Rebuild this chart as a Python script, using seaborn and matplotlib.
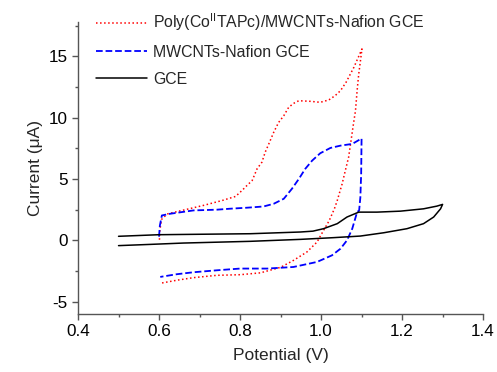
import numpy as np
import pandas as pd
import matplotlib
matplotlib.use("Agg")
import matplotlib.pyplot as plt
from matplotlib.ticker import MultipleLocator
import seaborn as sns

# Poly(Co(II)TAPc)/MWCNTs-Nafion GCE (red dotted)
poly_v = [0.601, 0.602, 0.606, 0.62, 0.657, 0.710, 0.756, 0.789, 0.805, 0.817, 0.83, 0.842, 0.854,
          0.862, 0.871, 0.883, 0.895, 0.908, 0.92, 0.932, 0.945, 0.974, 0.998, 1.019, 1.035, 1.048,
          1.062, 1.081, 1.101,
          1.093, 1.089, 1.085, 1.08, 1.074, 1.068, 1.06, 1.052, 1.04, 1.033, 1.020, 1.006, 0.99,
          0.965, 0.932, 0.90, 0.85, 0.80, 0.743, 0.685, 0.644, 0.603]
poly_i = [0.05, 0.8, 1.7, 2.15, 2.44, 2.85, 3.25, 3.58, 4.07, 4.47, 4.88, 5.83, 6.37,
          7.18, 7.86, 8.8, 9.6, 10.16, 10.84, 11.16, 11.38, 11.33, 11.25, 11.44, 11.8, 12.2,
          12.9, 14.1, 15.6,
          13.55, 12.2, 10.57, 9.5, 8.13, 6.77, 5.7, 4.6, 3.25, 2.58, 1.6, 0.8, -0.14,
          -0.95, -1.63, -2.2, -2.65, -2.8, -2.85, -3.04, -3.25, -3.5]

# MWCNTs-Nafion GCE (blue dashed)
mw_v = [0.600, 0.602, 0.607, 0.628, 0.685, 0.743, 0.776, 0.817, 0.858, 0.883, 0.908, 0.928, 0.945,
        0.961, 0.978, 0.998, 1.023, 1.048, 1.077, 1.10,
        1.099, 1.097, 1.094, 1.089, 1.077, 1.064, 1.048, 1.027, 0.99, 0.932, 0.867, 0.80, 0.743,
        0.685, 0.644, 0.603]
mw_i = [0.3, 1.2, 2.03, 2.17, 2.44, 2.5, 2.58, 2.66, 2.76, 2.98, 3.39, 4.2, 5.0,
        5.83, 6.5, 7.1, 7.53, 7.72, 7.86, 8.3,
        5.4, 3.5, 2.44, 2.3, 0.95, 0.0, -0.68, -1.22, -1.76, -2.17, -2.3, -2.3, -2.44,
        -2.6, -2.76, -2.98]

# GCE (black solid)
gce_v = [0.50, 0.60, 0.825, 0.949, 0.980, 1.006, 1.04, 1.064, 1.093, 1.138, 1.196, 1.253, 1.286, 1.30,
         1.295, 1.278, 1.253, 1.212, 1.155, 1.097, 1.031, 0.949, 0.825, 0.66, 0.578, 0.50]
gce_i = [0.33, 0.46, 0.54, 0.68, 0.75, 0.95, 1.36, 1.9, 2.3, 2.3, 2.38, 2.57, 2.79, 2.93,
         2.57, 1.9, 1.36, 0.95, 0.62, 0.35, 0.22, 0.08, -0.08, -0.22, -0.33, -0.43]

labels = [r"Poly(Co$^{\mathrm{II}}$TAPc)/MWCNTs-Nafion GCE", "MWCNTs-Nafion GCE", "GCE"]

sns.set_theme(style="white")
plt.rcParams["font.family"] = ["Liberation Sans", "DejaVu Sans"]
plt.rcParams["mathtext.fontset"] = "custom"
plt.rcParams["mathtext.rm"] = "Liberation Sans"

fig = plt.figure(figsize=(4.97, 3.72), dpi=100)
ax = fig.add_axes([0.157, 0.156, 0.815, 0.785])

frames = []
for v, i, lab in [(poly_v, poly_i, labels[0]), (mw_v, mw_i, labels[1]), (gce_v, gce_i, labels[2])]:
    frames.append(pd.DataFrame({"V": v, "I": i, "series": lab, "order": np.arange(len(v))}))
df = pd.concat(frames, ignore_index=True)

styles = {labels[0]: ("#ff0000", ":", 1.1), labels[1]: ("#0000ff", "--", 1.3), labels[2]: ("black", "-", 1.1)}
for lab in labels:
    c, ls, lw = styles[lab]
    sns.lineplot(data=df[df.series == lab], x="V", y="I", sort=False, estimator=None,
                 color=c, linestyle=ls, linewidth=lw, label=lab, ax=ax)

ax.set_xlim(0.4, 1.4)
ax.set_ylim(-6, 17.8)
ax.xaxis.set_minor_locator(MultipleLocator(0.1))
ax.yaxis.set_minor_locator(MultipleLocator(2.5))
ax.set_xticks([0.4, 0.6, 0.8, 1.0, 1.2, 1.4])
ax.set_xticklabels(["0.4", "0.6", "0.8", "1.0", "1.2", "1.4"])
ax.set_yticks([-5, 0, 5, 10, 15])
ax.set_yticklabels(["-5", "0", "5", "10", "15"])

for s in ["top", "right"]:
    ax.spines[s].set_visible(False)
for s in ["left", "bottom"]:
    ax.spines[s].set_color("#555555")
    ax.spines[s].set_linewidth(1.0)
ax.tick_params(which="major", direction="out", length=4, width=1, color="#555555",
               labelsize=12.3, labelcolor="black", bottom=True, left=True)
ax.tick_params(which="minor", direction="out", length=2.5, width=1, color="#555555",
               bottom=True, left=True)

ax.set_xlabel("Potential (V)", fontsize=12.5, labelpad=6)
ax.set_ylabel("Current (\u03bcA)", fontsize=12.5, labelpad=4)

leg = ax.legend(loc="upper left", bbox_to_anchor=(0.01, 1.085), frameon=False, fontsize=11.4,
                handlelength=3.2, handletextpad=0.4, labelspacing=0.75)

fig.savefig("out.png", dpi=100)
